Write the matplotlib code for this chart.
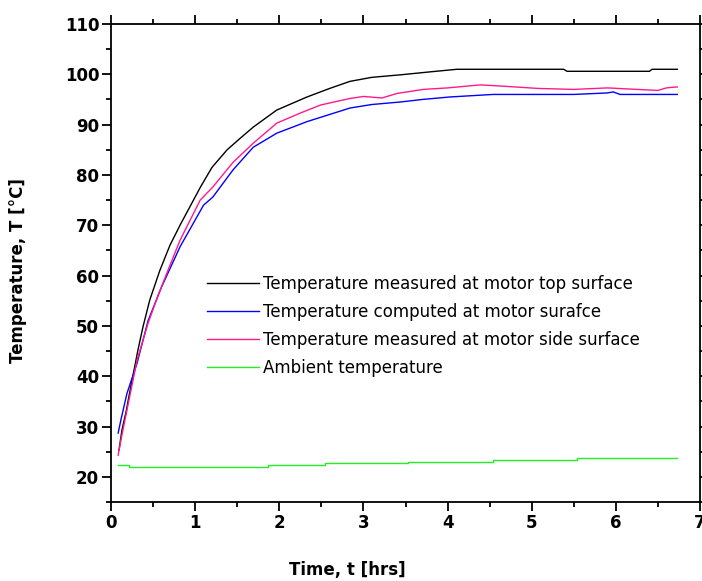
import matplotlib
matplotlib.use('Agg')
import matplotlib.pyplot as plt
from matplotlib.ticker import MultipleLocator

# data
t_top = [0.095, 0.13, 0.18, 0.22, 0.32, 0.38, 0.46, 0.58, 0.70, 0.82, 0.98, 1.06, 1.20, 1.38,
         1.55, 1.69, 1.97, 2.33, 2.60, 2.84, 3.10, 3.44, 3.80, 4.11, 4.50, 5.00, 5.38, 5.42,
         6.00, 6.40, 6.43, 6.73]
T_top = [25.3, 29.3, 33.0, 36.6, 45.2, 49.8, 55.1, 61.0, 66.0, 70.0, 75.0, 77.5, 81.5, 85.0,
         87.5, 89.5, 92.9, 95.5, 97.2, 98.6, 99.4, 99.9, 100.5, 101.0, 101.0, 101.0, 101.0, 100.6,
         100.6, 100.6, 101.0, 101.0]

t_comp = [0.085, 0.12, 0.19, 0.31, 0.44, 0.60, 0.82, 1.10, 1.21, 1.45, 1.69, 1.97, 2.33, 2.84,
          3.10, 3.44, 3.70, 4.03, 4.54, 5.00, 5.50, 5.90, 5.97, 6.05, 6.30, 6.73]
T_comp = [28.7, 31.5, 36.6, 42.6, 51.0, 57.7, 65.7, 74.0, 75.6, 81.0, 85.5, 88.3, 90.6, 93.3,
          94.0, 94.5, 95.0, 95.5, 96.0, 96.0, 96.0, 96.3, 96.5, 96.0, 96.0, 96.0]

t_side = [0.085, 0.12, 0.19, 0.31, 0.44, 0.56, 0.70, 0.82, 1.06, 1.21, 1.45, 1.69, 1.97, 2.25,
          2.49, 2.84, 3.00, 3.22, 3.40, 3.71, 4.00, 4.39, 4.70, 5.07, 5.50, 5.90, 6.25, 6.50,
          6.60, 6.73]
T_side = [24.3, 27.5, 33.3, 43.2, 50.5, 56.1, 62.0, 67.0, 75.0, 77.6, 82.5, 86.3, 90.3, 92.3,
          93.9, 95.2, 95.6, 95.3, 96.2, 97.0, 97.3, 97.9, 97.6, 97.2, 97.0, 97.3, 97.0, 96.8,
          97.3, 97.5]

t_amb = [0.08, 0.21, 1.86, 2.54, 3.53, 4.54, 5.54, 6.73]
T_amb = [22.3, 22.0, 22.3, 22.7, 23.0, 23.3, 23.65, 23.65]

fig = plt.figure(figsize=(7.02, 5.81), dpi=100)
ax = fig.add_axes([111 / 702, 1 - 502 / 581, 589 / 702, 478 / 581])

ax.plot(t_top, T_top, color='black', lw=1.0, label='Temperature measured at motor top surface')
ax.plot(t_comp, T_comp, color='#0000ff', lw=1.0, label='Temperature computed at motor surafce')
ax.plot(t_side, T_side, color='#ff1a8c', lw=1.0, label='Temperature measured at motor side surface')
ax.plot(t_amb, T_amb, color='#22ee22', lw=1.0, drawstyle='steps-post', label='Ambient temperature')

ax.set_xlim(0, 7)
ax.set_ylim(15, 110)
ax.xaxis.set_major_locator(MultipleLocator(1))
ax.xaxis.set_minor_locator(MultipleLocator(0.5))
ax.yaxis.set_minor_locator(MultipleLocator(5))
ax.set_yticks(range(20, 111, 10))

for s in ax.spines.values():
    s.set_linewidth(1.3)
ax.tick_params(which='both', direction='out', top=True, right=True, width=1.3)
ax.tick_params(which='major', length=6.5, pad=2)
ax.tick_params(which='minor', length=3.5)
for lab in ax.get_xticklabels() + ax.get_yticklabels():
    lab.set_fontweight('bold')
    lab.set_fontsize(12)

fig.text(347 / 702, 1 - 570 / 581, 'Time, t [hrs]', ha='center', va='center',
         fontsize=12, fontweight='bold')
fig.text(18 / 702, 1 - 271 / 581, 'Temperature, T [°C]', ha='center', va='center',
         rotation=90, fontsize=12, fontweight='bold')

ax.legend(loc='upper left', bbox_to_anchor=(207 / 702, 1 - 275 / 581),
          bbox_transform=fig.transFigure, frameon=False, fontsize=12,
          handlelength=3.1, handletextpad=0.25, labelspacing=0.6, borderpad=0,
          borderaxespad=0)

fig.savefig('out.png', dpi=100)
